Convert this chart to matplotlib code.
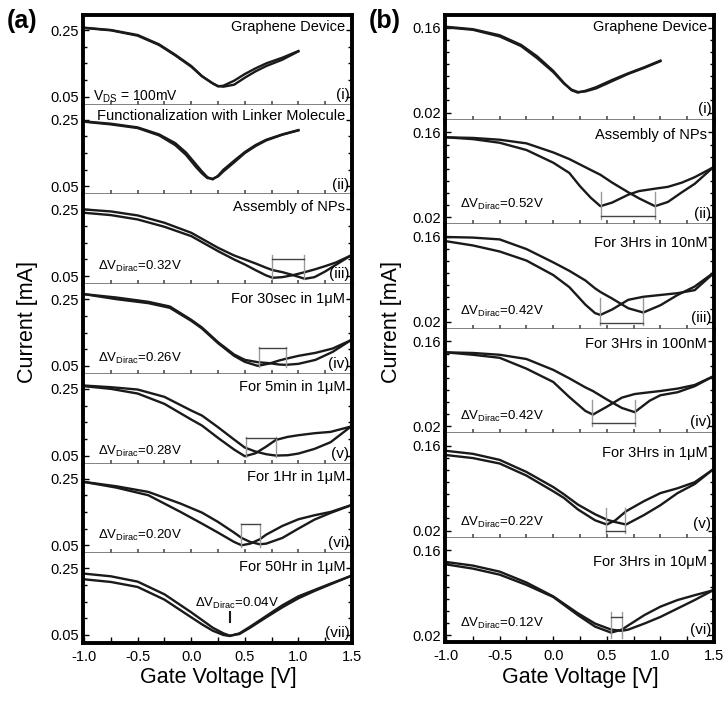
import numpy as np
import matplotlib
matplotlib.use("Agg")
import matplotlib.pyplot as plt
from matplotlib.ticker import FixedLocator, MultipleLocator

plt.rcParams['font.family'] = ['Liberation Sans', 'DejaVu Sans']
plt.rcParams['mathtext.fontset'] = 'custom'
plt.rcParams['mathtext.rm'] = 'Liberation Sans'
plt.rcParams['axes.unicode_minus'] = False

# ---------------- panel (a) data: gate voltage [V], current [mA] ----------------
a1_v = [-1.0, -0.75, -0.5, -0.3, -0.15, 0.0, 0.1, 0.2, 0.25, 0.3, 0.4, 0.5, 0.6, 0.7, 0.85, 1.0]
a1_f = [0.257, 0.250, 0.235, 0.207, 0.176, 0.142, 0.112, 0.090, 0.081, 0.083, 0.098, 0.118, 0.135, 0.150, 0.167, 0.187]
a1_r = [0.256, 0.249, 0.233, 0.205, 0.174, 0.140, 0.111, 0.090, 0.082, 0.080, 0.086, 0.107, 0.126, 0.142, 0.161, 0.186]

a2_v = [-1.0, -0.75, -0.5, -0.3, -0.15, -0.05, 0.05, 0.1, 0.15, 0.2, 0.25, 0.3, 0.4, 0.5, 0.6, 0.7, 0.85, 1.0]
a2_f = [0.245, 0.238, 0.227, 0.206, 0.180, 0.152, 0.114, 0.095, 0.078, 0.071, 0.082, 0.100, 0.127, 0.153, 0.174, 0.190, 0.206, 0.219]
a2_r = [0.244, 0.236, 0.225, 0.203, 0.174, 0.145, 0.106, 0.089, 0.075, 0.073, 0.080, 0.095, 0.122, 0.150, 0.171, 0.188, 0.205, 0.218]

a3_v = [-1.0, -0.75, -0.5, -0.25, 0.0, 0.25, 0.4, 0.5, 0.6, 0.7, 0.76, 0.85, 0.95, 1.06, 1.15, 1.25, 1.35, 1.49]
a3_f = [0.240, 0.233, 0.220, 0.198, 0.170, 0.125, 0.100, 0.085, 0.068, 0.052, 0.045, 0.047, 0.053, 0.062, 0.070, 0.080, 0.091, 0.112]
a3_r = [0.250, 0.244, 0.232, 0.210, 0.180, 0.135, 0.112, 0.100, 0.088, 0.075, 0.068, 0.062, 0.053, 0.042, 0.047, 0.064, 0.084, 0.112]

a4_v = [-1.0, -0.7, -0.4, -0.2, 0.0, 0.1, 0.25, 0.4, 0.5, 0.62, 0.73, 0.82, 0.88, 1.0, 1.16, 1.32, 1.49]
a4_f = [0.265, 0.250, 0.238, 0.224, 0.185, 0.162, 0.118, 0.080, 0.062, 0.050, 0.057, 0.066, 0.071, 0.080, 0.089, 0.102, 0.127]
a4_r = [0.265, 0.255, 0.242, 0.228, 0.188, 0.165, 0.121, 0.084, 0.068, 0.061, 0.058, 0.054, 0.053, 0.056, 0.068, 0.092, 0.127]

a5_v = [-1.0, -0.75, -0.5, -0.25, 0.0, 0.1, 0.25, 0.4, 0.5, 0.6, 0.7, 0.79, 0.9, 1.0, 1.15, 1.3, 1.49]
a5_f = [0.258, 0.250, 0.236, 0.205, 0.158, 0.140, 0.103, 0.068, 0.048, 0.057, 0.077, 0.097, 0.106, 0.111, 0.117, 0.121, 0.137]
a5_r = [0.260, 0.255, 0.248, 0.226, 0.185, 0.170, 0.135, 0.098, 0.074, 0.062, 0.054, 0.050, 0.051, 0.056, 0.070, 0.090, 0.137]

a6_v = [-1.0, -0.7, -0.4, -0.1, 0.1, 0.25, 0.4, 0.47, 0.55, 0.64, 0.7, 0.85, 1.0, 1.15, 1.3, 1.49]
a6_f = [0.240, 0.223, 0.200, 0.150, 0.115, 0.088, 0.060, 0.050, 0.055, 0.068, 0.082, 0.108, 0.128, 0.140, 0.150, 0.170]
a6_r = [0.240, 0.227, 0.210, 0.175, 0.148, 0.120, 0.088, 0.072, 0.060, 0.053, 0.055, 0.072, 0.100, 0.127, 0.147, 0.170]

a7_v = [-1.0, -0.75, -0.5, -0.25, 0.0, 0.1, 0.2, 0.3, 0.36, 0.45, 0.55, 0.7, 0.85, 1.0, 1.15, 1.3, 1.49]
a7_f = [0.217, 0.209, 0.194, 0.156, 0.103, 0.082, 0.063, 0.050, 0.047, 0.055, 0.075, 0.107, 0.139, 0.166, 0.185, 0.204, 0.227]
a7_r = [0.234, 0.226, 0.210, 0.172, 0.118, 0.095, 0.072, 0.055, 0.048, 0.053, 0.072, 0.103, 0.133, 0.160, 0.182, 0.202, 0.227]

# ---------------- panel (b) data ----------------
b1_v = [-1.0, -0.75, -0.5, -0.3, -0.15, 0.0, 0.1, 0.17, 0.23, 0.3, 0.4, 0.55, 0.7, 0.85, 1.0]
b1_f = [0.162, 0.158, 0.148, 0.132, 0.113, 0.089, 0.069, 0.057, 0.053, 0.056, 0.062, 0.074, 0.085, 0.095, 0.106]
b1_r = [0.161, 0.157, 0.146, 0.130, 0.110, 0.087, 0.068, 0.058, 0.054, 0.055, 0.060, 0.072, 0.084, 0.094, 0.105]

b2_v = [-1.0, -0.75, -0.5, -0.25, 0.0, 0.15, 0.25, 0.35, 0.44, 0.55, 0.7, 0.8, 0.95, 1.07, 1.2, 1.32, 1.49]
b2_f = [0.152, 0.149, 0.143, 0.131, 0.110, 0.093, 0.071, 0.052, 0.038, 0.044, 0.057, 0.063, 0.067, 0.070, 0.077, 0.086, 0.102]
b2_r = [0.152, 0.151, 0.148, 0.142, 0.127, 0.116, 0.107, 0.098, 0.090, 0.077, 0.061, 0.051, 0.038, 0.045, 0.061, 0.075, 0.102]

b3_v = [-1.0, -0.75, -0.5, -0.25, 0.0, 0.15, 0.3, 0.39, 0.44, 0.55, 0.7, 0.84, 1.0, 1.16, 1.32, 1.49]
b3_f = [0.153, 0.146, 0.136, 0.121, 0.097, 0.077, 0.048, 0.034, 0.031, 0.040, 0.056, 0.061, 0.064, 0.067, 0.072, 0.099]
b3_r = [0.160, 0.159, 0.156, 0.140, 0.118, 0.104, 0.088, 0.075, 0.069, 0.058, 0.042, 0.035, 0.047, 0.064, 0.078, 0.100]

b4_v = [-1.0, -0.75, -0.5, -0.25, 0.0, 0.15, 0.3, 0.37, 0.5, 0.64, 0.76, 0.9, 1.0, 1.16, 1.32, 1.49]
b4_f = [0.142, 0.138, 0.133, 0.115, 0.093, 0.068, 0.045, 0.039, 0.052, 0.067, 0.073, 0.076, 0.078, 0.082, 0.088, 0.102]
b4_r = [0.142, 0.141, 0.138, 0.131, 0.113, 0.099, 0.084, 0.078, 0.064, 0.050, 0.043, 0.062, 0.071, 0.076, 0.086, 0.102]

b5_v = [-1.0, -0.75, -0.5, -0.25, 0.0, 0.1, 0.23, 0.39, 0.5, 0.58, 0.68, 0.85, 1.0, 1.16, 1.32, 1.49]
b5_f = [0.145, 0.140, 0.131, 0.111, 0.085, 0.074, 0.055, 0.037, 0.030, 0.037, 0.052, 0.069, 0.082, 0.090, 0.100, 0.121]
b5_r = [0.152, 0.147, 0.137, 0.117, 0.092, 0.080, 0.063, 0.047, 0.038, 0.034, 0.030, 0.046, 0.062, 0.082, 0.097, 0.121]

b6_v = [-1.0, -0.75, -0.5, -0.25, 0.0, 0.23, 0.39, 0.54, 0.64, 0.7, 0.85, 1.0, 1.16, 1.32, 1.49]
b6_f = [0.137, 0.130, 0.120, 0.103, 0.083, 0.053, 0.034, 0.024, 0.029, 0.036, 0.053, 0.067, 0.078, 0.086, 0.094]
b6_r = [0.141, 0.135, 0.125, 0.107, 0.084, 0.056, 0.039, 0.029, 0.027, 0.029, 0.039, 0.050, 0.064, 0.078, 0.094]

# labels
a_titles = ["Graphene Device", "Functionalization with Linker Molecule", "Assembly of NPs",
            "For 30sec in 1\u03bcM", "For 5min in 1\u03bcM", "For 1Hr in 1\u03bcM", "For 50Hr in 1\u03bcM"]
b_titles = ["Graphene Device", "Assembly of NPs", "For 3Hrs in 10nM", "For 3Hrs in 100nM",
            "For 3Hrs in 1\u03bcM", "For 3Hrs in 10\u03bcM"]
romans = ["(i)", "(ii)", "(iii)", "(iv)", "(v)", "(vi)", "(vii)"]
a_dv = [None, None, "0.32V", "0.26V", "0.28V", "0.20V", "0.04V"]
b_dv = [None, "0.52V", "0.42V", "0.42V", "0.22V", "0.12V"]
# bracket marks: (v1, v2, low, high, horizontal level)
a_brk = [None, None, (0.755, 1.056, 0.042, 0.112, 0.102), (0.63, 0.88, 0.048, 0.107, 0.105),
         (0.51, 0.79, 0.045, 0.106, 0.104), (0.466, 0.637, 0.045, 0.115, 0.113), None]
b_brk = [None, (0.444, 0.947, 0.017, 0.061, 0.0216), (0.44, 0.84, 0.0145, 0.0587, 0.0183),
         (0.363, 0.767, 0.02, 0.0639, 0.0255), (0.49, 0.67, 0.0161, 0.0577, 0.020),
         (0.537, 0.637, 0.0145, 0.0584, 0.050)]

a_curves = [(a1_v, a1_f, a1_r), (a2_v, a2_f, a2_r), (a3_v, a3_f, a3_r), (a4_v, a4_f, a4_r),
            (a5_v, a5_f, a5_r), (a6_v, a6_f, a6_r), (a7_v, a7_f, a7_r)]
b_curves = [(b1_v, b1_f, b1_r), (b2_v, b2_f, b2_r), (b3_v, b3_f, b3_r),
            (b4_v, b4_f, b4_r), (b5_v, b5_f, b5_r), (b6_v, b6_f, b6_r)]

a_title_y = [0.865, 0.875, 0.865, 0.835, 0.855, 0.855, 0.845]
b_title_y = [0.885, 0.856, 0.82, 0.85, 0.81, 0.765]
a_dv_y = [0, 0, 0.2, 0.17, 0.13, 0.2, 0]
b_dv_y = [0, 0.19, 0.165, 0.16, 0.145, 0.18]
b_rom_y = [0.105, 0.1, 0.1, 0.105, 0.13, 0.115]

W, H = 724, 701
fig = plt.figure(figsize=(W / 100, H / 100), dpi=100)


def make_stack(left_px, right_px, top_px, bottom_px, n, ylim, yticks, yminor, ylabels):
    axs = []
    h = (bottom_px - top_px) / n
    for k in range(n):
        y0 = top_px + k * h
        ax = fig.add_axes([left_px / W, 1 - (y0 + h) / H, (right_px - left_px) / W, h / H])
        ax.set_xlim(-1.01, 1.5)
        ax.set_ylim(*ylim)
        for s in ['left', 'right']:
            ax.spines[s].set_linewidth(2.8)
        ax.spines['top'].set_visible(k == 0)
        ax.spines['top'].set_linewidth(2.8)
        if k == n - 1:
            ax.spines['bottom'].set_linewidth(2.8)
        else:
            ax.spines['bottom'].set_linewidth(1.1)
            ax.spines['bottom'].set_color('#606060')
        ax.xaxis.set_major_locator(MultipleLocator(0.5))
        ax.xaxis.set_minor_locator(MultipleLocator(0.25))
        ax.yaxis.set_major_locator(FixedLocator(yticks))
        ax.yaxis.set_minor_locator(FixedLocator(yminor))
        ax.set_yticklabels(ylabels)
        ax.tick_params(axis='y', which='both', direction='in', left=True, right=True,
                       width=1.0, labelsize=10.5, pad=3)
        ax.tick_params(axis='y', which='major', length=4)
        ax.tick_params(axis='y', which='minor', length=3)
        if k == n - 1:
            ax.tick_params(axis='x', which='both', direction='in', length=4, width=1.0,
                           labelsize=10.5, pad=5)
            ax.set_xticks([-1.0, -0.5, 0.0, 0.5, 1.0, 1.5])
            ax.set_xticklabels(['-1.0', '-0.5', '0.0', '0.5', '1.0', '1.5'])
        else:
            ax.tick_params(axis='x', which='both', direction='inout', length=6, width=1.1,
                           color='#404040', labelbottom=False)
        axs.append(ax)
    return axs


axA = make_stack(83, 352, 15, 643, 7, (0.026, 0.295), [0.05, 0.25], [0.10, 0.15, 0.20],
                 ['0.05', '0.25'])
axB = make_stack(445, 714, 15, 642, 6, (0.0085, 0.1815), [0.02, 0.16],
                 [0.04, 0.06, 0.08, 0.10, 0.12, 0.14], ['0.02', '0.16'])


def draw_bracket(ax, brk):
    v1, v2, lo, hi, hl = brk
    ax.plot([v1, v1], [lo, hi], color='#9a9a9a', lw=1.0)
    ax.plot([v2, v2], [lo, hi], color='#9a9a9a', lw=1.0)
    ax.plot([v1, v2], [hl, hl], color='#444444', lw=1.0)


for k, ax in enumerate(axA):
    v, f, r = a_curves[k]
    ax.plot(v, f, color='#1a1a1a', lw=1.7)
    ax.plot(v, r, color='#1a1a1a', lw=1.7)
    ax.text(0.975, a_title_y[k], a_titles[k], transform=ax.transAxes, ha='right', va='center',
            fontsize=10.5)
    ax.text(0.99, 0.11, romans[k], transform=ax.transAxes, ha='right', va='center', fontsize=11)
    if a_brk[k] is not None:
        draw_bracket(ax, a_brk[k])
    if a_dv[k] is not None and k < 6:
        ax.text(0.056, a_dv_y[k], '\u0394V$_{\\rm Dirac}$=' + a_dv[k], transform=ax.transAxes,
                ha='left', va='center', fontsize=9.5)
    if k == 6:
        ax.text(0.416, 0.44, '\u0394V$_{\\rm Dirac}$=' + a_dv[k], transform=ax.transAxes,
                ha='left', va='center', fontsize=9.5)
        ax.plot([0.36, 0.36], [0.09, 0.118], color='#1a1a1a', lw=1.5)

axA[0].text(0.037, 0.09, 'V$_{\\rm DS}$ = 100mV', transform=axA[0].transAxes, ha='left',
            va='center', fontsize=10)

for k, ax in enumerate(axB):
    v, f, r = b_curves[k]
    ax.plot(v, f, color='#1a1a1a', lw=1.7)
    ax.plot(v, r, color='#1a1a1a', lw=1.7)
    ax.text(0.975, b_title_y[k], b_titles[k], transform=ax.transAxes, ha='right', va='center',
            fontsize=10.5)
    ax.text(0.99, b_rom_y[k], romans[k], transform=ax.transAxes, ha='right', va='center',
            fontsize=11)
    if b_brk[k] is not None:
        draw_bracket(ax, b_brk[k])
    if b_dv[k] is not None:
        ax.text(0.056, b_dv_y[k], '\u0394V$_{\\rm Dirac}$=' + b_dv[k], transform=ax.transAxes,
                ha='left', va='center', fontsize=9.5)

# figure labels
fig.text(22 / W, 1 - 21 / H, '(a)', fontsize=18, fontweight='bold', ha='center', va='center')
fig.text(385 / W, 1 - 21 / H, '(b)', fontsize=18, fontweight='bold', ha='center', va='center')
fig.text(27 / W, 1 - 322 / H, 'Current [mA]', rotation=90, fontsize=15.5, ha='center', va='center')
fig.text(392 / W, 1 - 322 / H, 'Current [mA]', rotation=90, fontsize=15.5, ha='center', va='center')
fig.text(218 / W, 1 - 678 / H, 'Gate Voltage [V]', fontsize=15.5, ha='center', va='center')
fig.text(580 / W, 1 - 678 / H, 'Gate Voltage [V]', fontsize=15.5, ha='center', va='center')

fig.savefig('out.png', dpi=100)
